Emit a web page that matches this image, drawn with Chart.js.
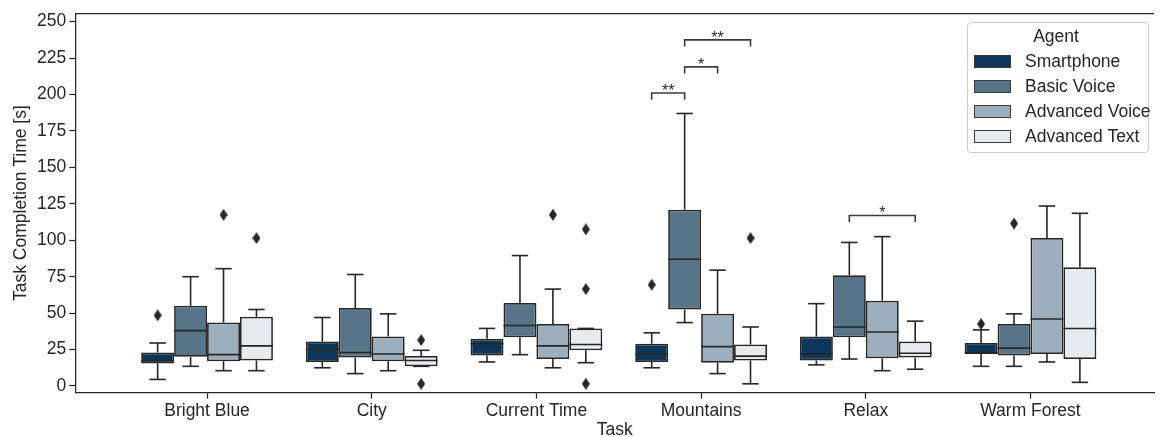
<!DOCTYPE html>
<html>
<head>
<meta charset="utf-8">
<title>Task Completion Time</title>
<script src="https://cdn.jsdelivr.net/npm/chart.js@4.4.1/dist/chart.umd.min.js"></script>
<style>
    body { margin: 0; background: #fff; }
    .wrap { position: relative; width: 1160px; height: 437px; overflow: hidden; }
    .legend {
        position: absolute; left: 967px; top: 22px; width: 182px; height: 131px;
        box-sizing: border-box; padding-top: 1px; white-space: nowrap;
        border: 1px solid #cccccc; border-radius: 4px; background: rgba(255, 255, 255, 0.8);
        font-family: 'Liberation Sans', Arial, sans-serif; font-size: 17.5px; color: #262626;
    }
    .legend .title { height: 25px; line-height: 25px; text-align: center; padding-right: 4px; }
    .legend .row { height: 25px; display: flex; align-items: center; }
    .legend .patch { flex: none; width: 35px; height: 11px; margin-left: 6px; margin-right: 14px; border: 1px solid #3a3a3a; }
</style>
</head>
<body>
<div class="wrap">
    <canvas id="boxChart" width="1160" height="437"></canvas>
    <div class="legend" id="legend"></div>
</div>
<script>
const tasks = ['Bright Blue', 'City', 'Current Time', 'Mountains', 'Relax', 'Warm Forest'];
const agents = ['Smartphone', 'Basic Voice', 'Advanced Voice', 'Advanced Text'];
const colors = ['#0e3659', '#587489', '#9dafbc', '#e7eaef'];
const yTicks = [0, 25, 50, 75, 100, 125, 150, 175, 200, 225, 250];

// one row per agent, one column per task
const whiskerLow = [
    [4.5, 12.5, 16.5, 12.5, 14.5, 13.5],
    [13.5, 8.5, 21.5, 43.5, 18.5, 13.5],
    [10.5, 10.5, 12.5, 8.5, 10.5, 16.5],
    [10.5, 13.5, 16, 1.5, 11.5, 2.5]
];
const q1 = [
    [15.5, 16.5, 21, 16.5, 17.5, 22],
    [20, 19.5, 33.5, 52.5, 33.5, 21],
    [17, 17, 18.5, 16, 19, 22],
    [17.5, 13.5, 24.5, 17.5, 19.5, 18.5]
];
const median = [
    [17.5, 25, 29, 22, 22, 23],
    [38, 23, 41.5, 87, 40.5, 26],
    [21.5, 22, 27.5, 27, 37, 46],
    [27.5, 17.5, 28.5, 20.5, 22.5, 39.5]
];
const q3 = [
    [23, 30.5, 32.5, 29, 34, 29.5],
    [55, 53.5, 57, 121, 76, 42.5],
    [43.5, 34, 42.5, 49.5, 58.5, 101.5],
    [47.5, 20.5, 39.5, 28.5, 30.5, 81.5]
];
const whiskerHigh = [
    [29.5, 47, 39.5, 36.5, 56.5, 38.5],
    [75, 76.5, 89.5, 187, 98.5, 49.5],
    [80.5, 49.5, 66.5, 79.5, 102.5, 123.5],
    [52.5, 24.5, 39.5, 40.5, 44.5, 118.5]
];
// [task index, value] per agent
const outliers = [
    [[0, 48.5], [3, 69.5], [5, 42.5]],
    [[5, 111.5]],
    [[0, 117.5], [2, 117.5]],
    [[0, 101.5], [1, 31.5], [1, 1.5], [2, 107.5], [2, 66.5], [2, 1.5], [3, 101.5]]
];
// [task index, agent a, agent b, height, label]
const brackets = [
    [3, 0, 1, 201, '**'],
    [3, 1, 2, 219, '*'],
    [3, 1, 3, 237.5, '**'],
    [4, 1, 3, 117, '*']
];

const edge = '#262626';
const textColor = '#262626';
const font = { family: "'Liberation Sans', Arial, sans-serif", size: 17.5 };
const boxWidth = 0.8 / agents.length;

// thin diamond marker like matplotlib's 'd'
const diamond = document.createElement('canvas');
diamond.width = 8;
diamond.height = 12;
(function () {
    const c = diamond.getContext('2d');
    c.fillStyle = edge;
    c.beginPath();
    c.moveTo(4, 0);
    c.lineTo(8, 6);
    c.lineTo(4, 12);
    c.lineTo(0, 6);
    c.closePath();
    c.fill();
})();

const boxSets = agents.map((name, j) => ({
    type: 'bar',
    label: name,
    data: tasks.map((t, i) => ({ x: i, y: [q1[j][i], q3[j][i]] })),
    backgroundColor: colors[j],
    borderColor: edge,
    borderWidth: 1.75,
    borderSkipped: false,
    categoryPercentage: 0.8,
    barPercentage: 1
}));

const flierSets = agents.map((name, j) => ({
    type: 'scatter',
    label: name + ' outliers',
    data: outliers[j].map(([i, v]) => ({ x: i + (j - (agents.length - 1) / 2) * boxWidth, y: v })),
    pointStyle: diamond,
    pointRadius: 5
}));

const boxPlotPlugin = {
    id: 'boxPlot',
    afterDatasetsDraw(chart) {
        const ctx = chart.ctx;
        const y = chart.scales.y;
        const area = chart.chartArea;
        const line = (x1, y1, x2, y2) => {
            ctx.beginPath();
            ctx.moveTo(x1, y1);
            ctx.lineTo(x2, y2);
            ctx.stroke();
        };

        ctx.save();
        ctx.strokeStyle = edge;
        ctx.lineWidth = 1.6;
        agents.forEach((a, j) => {
            chart.getDatasetMeta(j).data.forEach((bar, i) => {
                const x = bar.x;
                const half = bar.width / 2;
                const cap = bar.width / 4;
                const yLow = y.getPixelForValue(whiskerLow[j][i]);
                const yHigh = y.getPixelForValue(whiskerHigh[j][i]);
                const yMed = y.getPixelForValue(median[j][i]);
                line(x, y.getPixelForValue(q3[j][i]), x, yHigh);
                line(x, y.getPixelForValue(q1[j][i]), x, yLow);
                line(x - cap, yHigh, x + cap, yHigh);
                line(x - cap, yLow, x + cap, yLow);
                line(x - half, yMed, x + half, yMed);
            });
        });

        // significance brackets
        ctx.strokeStyle = '#3c3c3c';
        ctx.fillStyle = textColor;
        ctx.font = '16px ' + font.family;
        ctx.textAlign = 'center';
        ctx.textBaseline = 'alphabetic';
        brackets.forEach(([i, a, b, h, label]) => {
            const xa = chart.getDatasetMeta(a).data[i].x;
            const xb = chart.getDatasetMeta(b).data[i].x;
            const top = y.getPixelForValue(h);
            const foot = y.getPixelForValue(h - 4.5);
            ctx.beginPath();
            ctx.moveTo(xa, foot);
            ctx.lineTo(xa, top);
            ctx.lineTo(xb, top);
            ctx.lineTo(xb, foot);
            ctx.stroke();
            ctx.fillText(label, (xa + xb) / 2, top + 3);
        });

        // top spine
        ctx.strokeStyle = textColor;
        ctx.lineWidth = 1.25;
        line(area.left, area.top, area.right, area.top);
        ctx.restore();
    }
};

new Chart(document.getElementById('boxChart'), {
    type: 'bar',
    data: { datasets: [...boxSets, ...flierSets] },
    options: {
        responsive: false,
        animation: false,
        layout: { padding: { top: 12.7, right: 0, bottom: 0, left: 0 } },
        plugins: { legend: { display: false }, tooltip: { enabled: false } },
        scales: {
            x: {
                type: 'linear',
                min: -0.8,
                max: 5.75,
                offset: false,
                afterBuildTicks: s => { s.ticks = tasks.map((t, i) => ({ value: i })); },
                afterFit: s => { s.height = 44.3; },
                ticks: { callback: v => tasks[v], font: font, color: textColor, padding: 2, maxRotation: 0, autoSkip: false },
                grid: { drawOnChartArea: false, drawTicks: true, tickLength: 6, tickWidth: 1.25, color: textColor, offset: false },
                border: { display: true, color: textColor, width: 1.25 },
                title: { display: true, text: 'Task', font: { ...font, lineHeight: 1 }, color: textColor, padding: { top: 0, bottom: -1.5 } }
            },
            y: {
                min: -4.6,
                max: 255.6,
                afterBuildTicks: s => { s.ticks = yTicks.map(v => ({ value: v })); },
                afterFit: s => { s.width = 75.3; },
                ticks: { font: font, color: textColor, padding: 3 },
                grid: { drawOnChartArea: false, drawTicks: true, tickLength: 6, tickWidth: 1.25, color: textColor },
                border: { display: true, color: textColor, width: 1.25 },
                title: { display: true, text: 'Task Completion Time [s]', font: { ...font, lineHeight: 1 }, color: textColor, padding: { top: 12.5, bottom: 0 } }
            }
        }
    },
    plugins: [boxPlotPlugin]
});

const legend = document.getElementById('legend');
legend.innerHTML = '<div class="title">Agent</div>' + agents.map((name, j) =>
    `<div class="row"><span class="patch" style="background:${colors[j]}"></span><span>${name}</span></div>`
).join('');
</script>
</body>
</html>
